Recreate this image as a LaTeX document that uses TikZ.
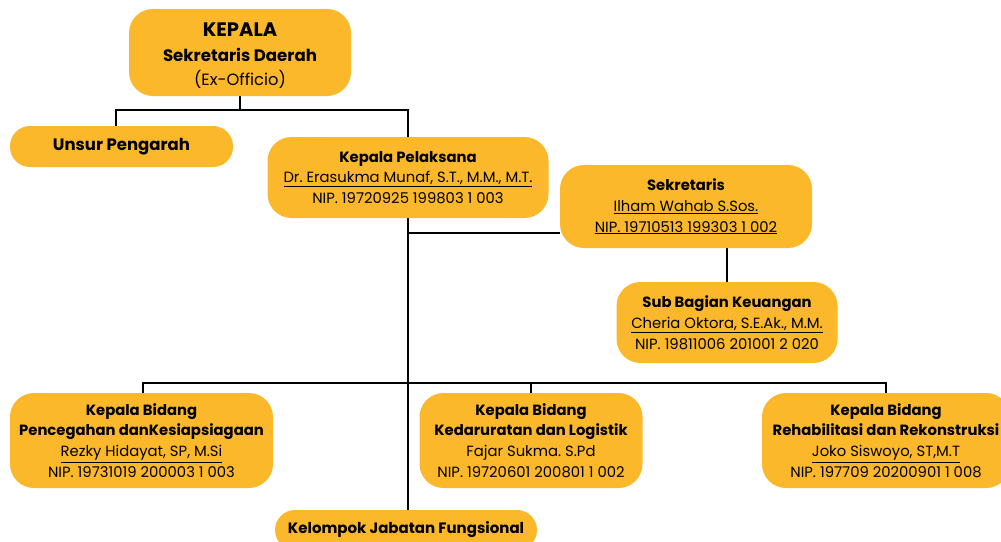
\documentclass[tikz,border=0pt]{standalone}
\usepackage{fontspec}
\setmainfont{Poppins}[BoldFont={Poppins Bold}]
\usetikzlibrary{backgrounds}
\definecolor{gold}{HTML}{FBB82B}
\tikzset{
  box/.style={fill=gold, rounded corners=24pt, inner sep=0pt, align=center,
    font=\frenchspacing\fontsize{14.8}{20.8}\selectfont},
  conn/.style={line width=2.5pt, black},
}
\newcommand{\hd}[1]{{\bfseries #1}}
\begin{document}
\begin{tikzpicture}[x=1pt,y=-1pt]
\useasboundingbox (0,0) rectangle (1001,541);
\clip (0,0) rectangle (1001,541);
% top
\node[box, minimum width=222pt, minimum height=87pt] (kepala) at (240,52.5) {};
\node[align=center, inner sep=0pt, font=\fontsize{14.8}{20.8}\selectfont] (kepalatxt) at (240,55.5)
  {{\fontsize{19.5}{25}\selectfont\bfseries KEPALA}\\[4pt]
   {\fontsize{16.6}{24}\selectfont\bfseries Sekretaris Daerah}\\[3pt]
   {\fontsize{16.3}{24}\selectfont (Ex-Officio)}};
\node[box, rounded corners=20pt, minimum width=223pt, minimum height=41pt] (unsur) at (121.5,146.5)
  {\fontsize{16.5}{20}\selectfont\bfseries Unsur Pengarah};
\node[box, minimum width=281pt, minimum height=81pt] (pelaksana) at (408,177.5)
  {\hd{Kepala Pelaksana}\\ \underline{Dr. Erasukma Munaf, S.T., M.M., M.T.}\\ NIP. 19720925 199803 1 003};
\node[box, minimum width=252pt, minimum height=83pt] (sekretaris) at (686,206.5)
  {\hd{Sekretaris}\\ \underline{Ilham Wahab S.Sos.}\\ \underline{NIP. 19710513 199303 1 002}};
\node[box, minimum width=221pt, minimum height=81pt] (sub) at (727,322.5)
  {\hd{Sub Bagian Keuangan}\\ \underline{Cheria Oktora, S.E.Ak., M.M.}\\ NIP. 19811006 201001 2 020};
\node[box, minimum width=263pt, minimum height=95pt] (bid1) at (141.5,440.5)
  {\hd{Kepala Bidang}\\ \hd{Pencegahan danKesiapsiagaan}\\ \underline{Rezky Hidayat, SP, M.Si}\\ NIP. 19731019 200003 1 003};
\node[box, minimum width=223pt, minimum height=95pt] (bid2) at (531,440.5)
  {\hd{Kepala Bidang}\\ \hd{Kedaruratan dan Logistik}\\ Fajar Sukma. S.Pd\\ NIP. 19720601 200801 1 002};
\node[box, minimum width=248pt, minimum height=95pt] (bid3) at (886,440.5)
  {\hd{Kepala Bidang}\\ \hd{Rehabilitasi dan Rekonstruksi}\\ \underline{Joko Siswoyo, ST,M.T}\\ NIP. 197709 20200901 1 008};
\node[box, rounded corners=20pt, minimum width=262pt, minimum height=40pt] (kelompok) at (406,530)
  {\fontsize{15}{20}\selectfont\bfseries Kelompok Jabatan Fungsional};
\begin{scope}[on background layer]
  \coordinate (t1) at (116,110);
  \coordinate (t2) at (408,110);
  \draw[conn] (kepala.south) -- (kepala.south |- t1);
  \draw[conn] (unsur.north -| t1) -- (t1) -- (t2) -- (pelaksana.north);
  \draw[conn] (pelaksana.south) -- (pelaksana.south |- kelompok.north);
  \coordinate (s1) at (408,233);
  \draw[conn] (s1) -- (sekretaris.west |- s1);
  \draw[conn] (sub.north) -- (sub.north |- sekretaris.south);
  \coordinate (b1) at (143,383);
  \coordinate (b3) at (886,383);
  \draw[conn] (bid1.north -| b1) -- (b1) -- (b3) -- (bid3.north);
  \draw[conn] (bid2.north) -- (bid2.north |- b1);
\end{scope}
\end{tikzpicture}
\end{document}
